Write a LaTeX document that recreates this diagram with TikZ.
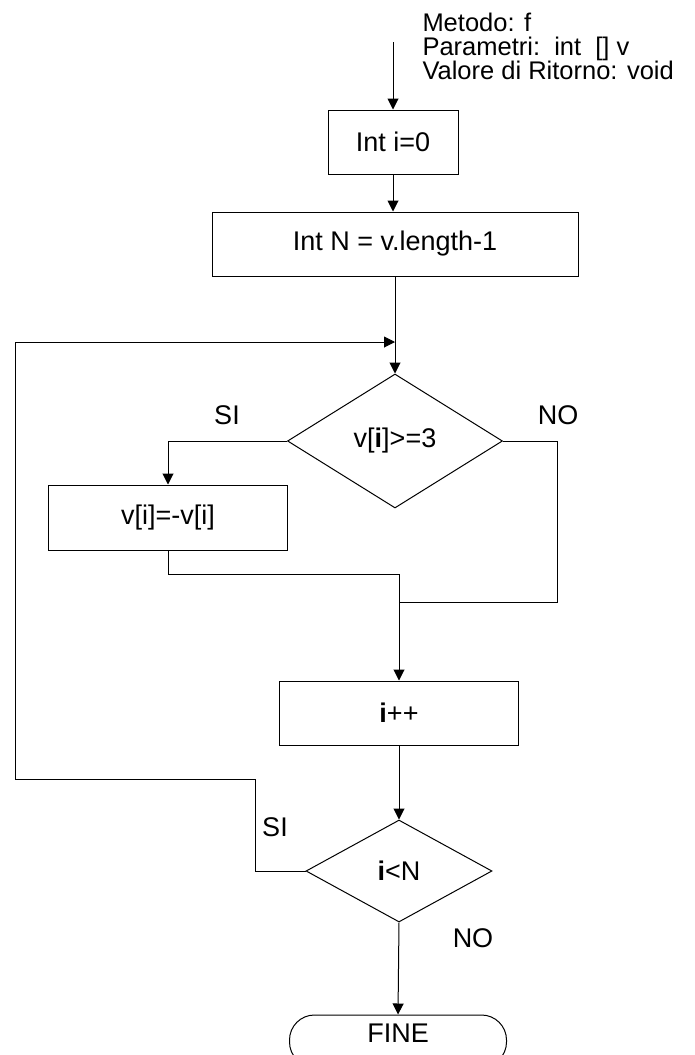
\documentclass[tikz,border=0pt]{standalone}
\usepackage{fontspec}
\setmainfont{Liberation Sans}
\usetikzlibrary{arrows.meta,shapes.geometric}
\begin{document}
\begin{tikzpicture}[x=1pt,y=-1pt,
  line width=1pt,
  every node/.style={font=\fontsize{27}{23}\selectfont, inner sep=0pt},
  proc/.style={draw, rectangle, anchor=center},
  dec/.style={draw, diamond, anchor=center, inner sep=0pt},
  term/.style={draw, rectangle, rounded corners=25pt, anchor=center},
  lbl/.style={anchor=center},
  hdr/.style={anchor=base west, font=\fontsize{25.5}{22}\selectfont},
  arr/.style={-{Triangle[length=11pt,width=11pt]}}
]
\useasboundingbox (0,0) rectangle (694,1055);
\clip (0,0) rectangle (694,1055);
% header
\node[hdr] (m1) at (422,31) {Metodo: f};
\node[hdr] (m2) at (422,55) {Parametri:\ \ int\ \ [] v};
\node[hdr] (m3) at (422,79) {Valore di Ritorno: void};
\coordinate (start) at (393,42);
% nodes
\node[proc, minimum width=130pt, minimum height=64pt] (b1) at (393,142) {Int i=0};
\node[proc, minimum width=366pt, minimum height=64pt] (b2) at (395,244) {Int N = v.length-1};
\node[dec, minimum width=215pt, minimum height=134pt] (d1) at (395,441) {v[\textbf{i}]>=3};
\node[proc, minimum width=239pt, minimum height=65pt] (b3) at (168,517.5) {v[i]=-v[i]};
\node[proc, minimum width=239pt, minimum height=64pt] (b4) at (399,713) {\textbf{i}++};
\node[dec, minimum width=186pt, minimum height=102pt] (d2) at (399,871) {\textbf{i}<N};
\node[term, minimum width=217pt, minimum height=52pt] (fine) at (398,1041) {};
\node[lbl] (finetxt) at (398,1033) {FINE};
% labels
\node[lbl] (si1) at (227,415) {SI};
\node[lbl] (no1) at (558,415) {NO};
\node[lbl] (si2) at (275,827) {SI};
\node[lbl] (no2) at (473,938) {NO};
% junction coordinates
\coordinate (j0) at (395,342);
\coordinate (j1) at (399,574);
\coordinate (j2) at (399,602);
\coordinate (nc) at (557,602);
\coordinate (l1) at (255,779);
\coordinate (l2) at (15,342);
% connectors
\draw[arr] (start) -- (b1.north);
\draw[arr] (b1.south) -- (b1.south |- b2.north);
\draw[arr] (b2.south) -- (d1.north);
\draw[arr] (d1.west) -| (b3.north);
\draw (b3.south) |- (j1);
\draw (d1.east) -| (nc) -- (j2);
\draw[arr] (j1) -- (b4.north);
\draw[arr] (b4.south) -- (d2.north);
\draw (d2.west) -| (l1) -| (l2);
\draw[arr] (l2) -- (j0);
\draw[arr] (d2.south) -- (fine.north);
\end{tikzpicture}
\end{document}
